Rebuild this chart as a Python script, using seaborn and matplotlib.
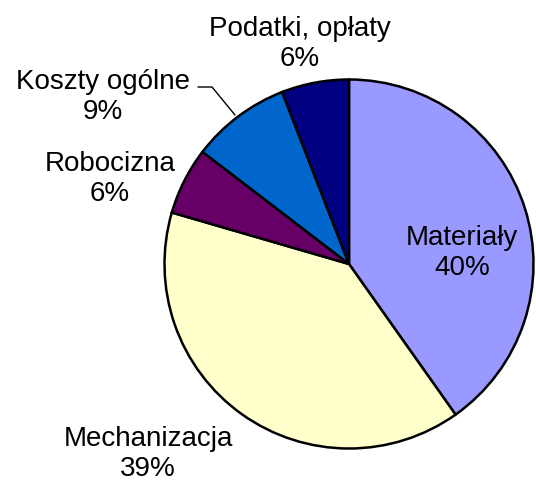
import matplotlib
matplotlib.use("Agg")
import matplotlib.pyplot as plt
import seaborn as sns

# cost structure (share of total, %)
categories = ["Materiały", "Mechanizacja", "Robocizna", "Koszty ogólne", "Podatki, opłaty"]
shares = [40.2, 39.3, 5.9, 8.7, 5.9]
colors = ["#9999FF", "#FFFFCC", "#660066", "#0066CC", "#000080"]

sns.set_theme(style="white")
plt.rcParams["font.family"] = ["Liberation Sans", "DejaVu Sans"]

W, H = 536, 481
fig = plt.figure(figsize=(W / 100, H / 100), dpi=100)
ax = fig.add_axes([0, 0, 1, 1])

cx, cy, r = 349, H - 265, 184.5
ax.pie(shares, colors=sns.color_palette(colors), startangle=90, counterclock=False,
       center=(cx, cy), radius=r, frame=True,
       wedgeprops=dict(edgecolor="black", linewidth=1.8))
ax.set_xlim(0, W)
ax.set_ylim(0, H)
ax.set_aspect("equal")
ax.axis("off")

# label positions in pixel coords (x, y from top)
label_pos = [(462, 253), (148, 454), (110, 179), (103, 97), (300, 44)]
for name, val, (lx, ly) in zip(categories, shares, label_pos):
    ax.text(lx, H - ly, f"{name}\n{round(val):.0f}%", ha="center", va="center",
            fontsize=20, linespacing=1.2, color="black")

# leader line for "Koszty ogólne"
ax.plot([198, 212, 235], [H - 88, H - 88, H - 116], color="black", linewidth=1)

fig.savefig("out.png", dpi=100)
